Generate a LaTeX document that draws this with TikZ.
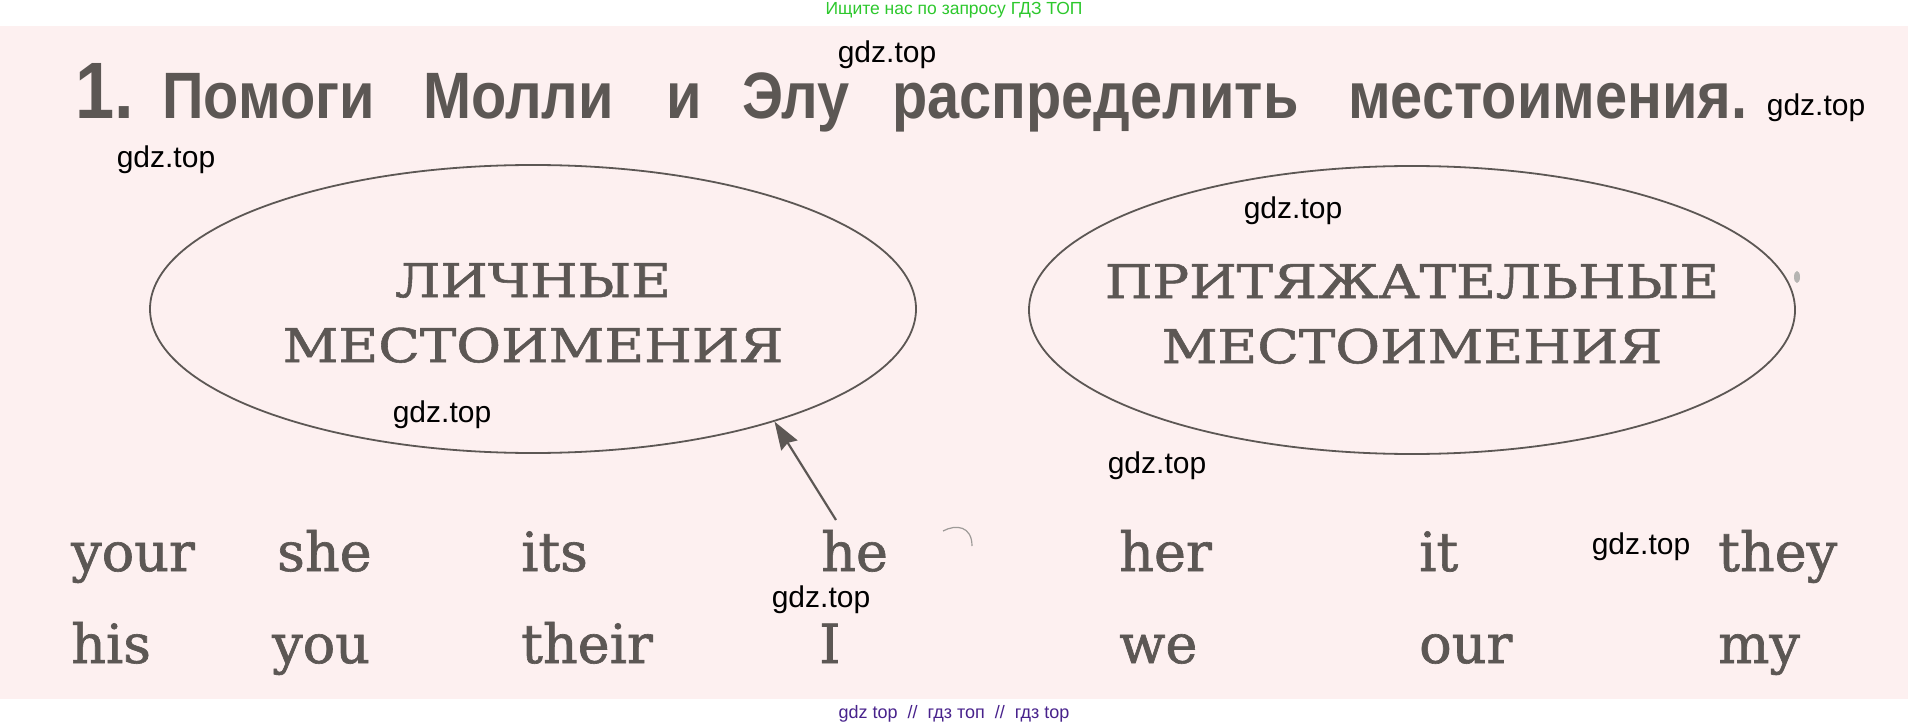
\documentclass[tikz,border=0pt]{standalone}
\usepackage{fontspec}
\setmainfont{DejaVu Serif}
\newfontfamily\wordfont[FakeBold=1.2]{DejaVu Serif}
\newfontfamily\capfont[FakeStretch=1.17,FakeBold=1.2]{DejaVu Serif}
\newfontfamily\headfont[FakeStretch=0.88]{Liberation Sans}
\newfontfamily\markfont{Liberation Sans}
\usetikzlibrary{shapes.geometric,arrows.meta}
\definecolor{ink}{RGB}{92,87,84}
\definecolor{paper}{RGB}{253,240,240}
\definecolor{adgreen}{RGB}{45,200,45}
\definecolor{adviolet}{RGB}{72,34,140}

\begin{document}
\begin{tikzpicture}[x=1pt,y=-1pt,
  oval/.style={ellipse,draw=ink,line width=1.8pt,minimum width=766pt,minimum height=288pt,inner sep=0pt},
  caption/.style={align=center,text=ink,inner sep=0pt,yshift=-4pt,font=\capfont\fontsize{46.6}{65}\selectfont},
  word/.style={anchor=base west,inner sep=0pt,text=ink,font=\wordfont\fontsize{54}{60}\selectfont},
  headword/.style={anchor=base west,inner sep=0pt,text=ink,font=\headfont\bfseries\fontsize{65.6}{70}\selectfont},
  wm/.style={inner sep=0pt,font=\markfont\fontsize{30}{32}\selectfont}]
        \useasboundingbox (0,0) rectangle (1908,727);
        \fill[white] (0,0) rectangle (1908,727);
        \fill[paper] (0,26) rectangle (1908,699);

        \node[inner sep=0pt,text=adgreen,font=\markfont\fontsize{17.5}{19}\selectfont] (ad) at (954,10.5) {Ищите нас по запросу ГДЗ ТОП};
        \node[inner sep=0pt,text=adviolet,font=\markfont\fontsize{18}{20}\selectfont] (foot) at (954,713.5) {gdz top\ \ //\ \ гдз топ\ \ //\ \ гдз top};

        \node[headword,font=\headfont\bfseries\fontsize{80}{84}\selectfont] (num) at (75,119) {1.};
        \node[headword] (h1) at (162,119) {Помоги};
        \node[headword] (h2) at (423,119) {Молли};
        \node[headword] (h3) at (666,119) {и};
        \node[headword] (h4) at (742,119) {Элу};
        \node[headword] (h5) at (892,119) {распределить};
        \node[headword] (h6) at (1348,119) {местоимения.};

        \node[oval] (lichn) at (533,309) {};
        \node[oval] (prit) at (1412,310) {};
        \node[caption] (lichntext) at (lichn) {ЛИЧНЫЕ\\МЕСТОИМЕНИЯ};
        \node[caption] (prittext) at (prit) {ПРИТЯЖАТЕЛЬНЫЕ\\МЕСТОИМЕНИЯ};

        \node[word] (your) at (71,571) {your};
        \node[word] (she) at (277,571) {she};
        \node[word] (its) at (521,571) {its};
        \node[word] (he) at (821,571) {he};
        \node[word] (her) at (1119,571) {her};
        \node[word] (it) at (1419,571) {it};
        \node[word] (they) at (1718,571) {they};
        \node[word] (his) at (71,663) {his};
        \node[word] (you) at (272,663) {you};
        \node[word] (their) at (521,663) {their};
        \node[word] (I) at (819,663) {I};
        \node[word] (we) at (1119,663) {we};
        \node[word] (our) at (1419,663) {our};
        \node[word] (my) at (1718,663) {my};

        \coordinate (hetail) at (836,520);
        \draw[ink,line width=2.2pt,-{Stealth[length=28pt,width=19pt,inset=3pt]}] (hetail) -- (lichn.-25.7);
        \draw[ink!60,line width=1.2pt] (943,531) .. controls (956,524) and (972,526) .. (972,546);
        \fill[ink!45] (1797,277) ellipse (3 and 6);

        \node[wm] (g1) at (887,55) {gdz.top};
        \node[wm] (g2) at (1816,108) {gdz.top};
        \node[wm] (g3) at (166,160) {gdz.top};
        \node[wm] (g4) at (1293,211) {gdz.top};
        \node[wm] (g5) at (442,415) {gdz.top};
        \node[wm] (g6) at (1157,466) {gdz.top};
        \node[wm] (g7) at (1641,547) {gdz.top};
        \node[wm] (g8) at (821,600) {gdz.top};
\end{tikzpicture}
\end{document}
